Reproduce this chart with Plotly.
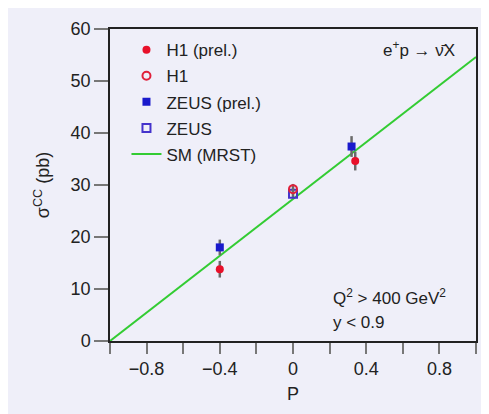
import plotly.graph_objects as go

# Data
h1_prel_p = [-0.40, 0.34]
h1_prel_sigma = [13.8, 34.6]
h1_prel_err = [1.6, 1.8]

h1_p = [0.0]
h1_sigma = [29.2]
h1_err = [1.0]

zeus_prel_p = [-0.40, 0.32]
zeus_prel_sigma = [18.0, 37.4]
zeus_prel_err = [1.5, 2.0]

zeus_p = [0.0]
zeus_sigma = [28.3]
zeus_err = [0.9]

sm_p = [-1.0, 1.0]
sm_sigma = [0.0, 54.6]

x_tickvals = [-0.8, -0.4, 0.0, 0.4, 0.8]
x_ticktext = ["\u22120.8", "\u22120.4", "0", "0.4", "0.8"]
y_tickvals = [0, 10, 20, 30, 40, 50, 60]

FONT = "Liberation Sans, Arial, sans-serif"
BG = "#efeff9"
ERRC = "#6a6a6a"

fig = go.Figure()

fig.add_trace(go.Scatter(
    x=sm_p, y=sm_sigma, mode="lines", name="SM (MRST)",
    line=dict(color="#33cc33", width=2), legendrank=5, legendgroup="e"))

def err(arr):
    return dict(type="data", array=arr, visible=True, color=ERRC, thickness=2.5, width=0)

fig.add_trace(go.Scatter(
    x=zeus_p, y=zeus_sigma, error_y=err(zeus_err), mode="markers", name="ZEUS",
    marker=dict(symbol="square-open", size=8, color="#4433cc", line=dict(width=2)),
    legendrank=4, legendgroup="d"))
fig.add_trace(go.Scatter(
    x=h1_p, y=h1_sigma, error_y=err(h1_err), mode="markers", name="H1",
    marker=dict(symbol="circle-open", size=8, color="#e0203a", line=dict(width=2)),
    legendrank=2, legendgroup="b"))
fig.add_trace(go.Scatter(
    x=zeus_prel_p, y=zeus_prel_sigma, error_y=err(zeus_prel_err), mode="markers",
    name="ZEUS (prel.)",
    marker=dict(symbol="square", size=8, color="#1a1acc"),
    legendrank=3, legendgroup="c"))
fig.add_trace(go.Scatter(
    x=h1_prel_p, y=h1_prel_sigma, error_y=err(h1_prel_err), mode="markers",
    name="H1 (prel.)",
    marker=dict(symbol="circle", size=8, color="#e8102a"),
    legendrank=1, legendgroup="a"))

fig.update_layout(
    width=481, height=406,
    margin=dict(l=102, r=11, t=21, b=73),
    paper_bgcolor=BG, plot_bgcolor=BG,
    font=dict(family=FONT, size=18, color="#222222"),
    showlegend=True,
    legend=dict(x=0.045, y=0.99, xanchor="left", yanchor="top",
                bgcolor="rgba(0,0,0,0)", font=dict(size=17),
                traceorder="grouped", tracegroupgap=1, itemwidth=30),
    xaxis=dict(range=[-1, 1], tickvals=x_tickvals, ticktext=x_ticktext,
               ticks="outside", ticklen=11, tickwidth=1.5, tickcolor="#777777",
               minor=dict(tick0=-1, dtick=0.2, ticks="outside", ticklen=11,
                          tickwidth=1.5, tickcolor="#777777", showgrid=False),
               showline=True, linecolor="#222222", linewidth=1.5, mirror=True,
               showgrid=False, zeroline=False,
               title=dict(text="P", standoff=9, font=dict(size=18)),
               tickfont=dict(size=18)),
    yaxis=dict(range=[0, 60], tickvals=y_tickvals,
               ticks="outside", ticklen=14, tickwidth=1.5, tickcolor="#777777",
               showline=True, linecolor="#222222", linewidth=1.5, mirror=True,
               showgrid=False, zeroline=False,
               title=dict(text="\u03c3<sup>CC</sup> (pb)", standoff=16, font=dict(size=18)),
               tickfont=dict(size=18)),
    annotations=[
        dict(text="e<sup>+</sup>p \u2192 \u03bd\u0304X", xref="paper", yref="paper",
             x=0.74, y=0.935, xanchor="left", yanchor="middle", showarrow=False,
             font=dict(size=17)),
        dict(text="Q<sup>2</sup> > 400 GeV<sup>2</sup>", xref="paper", yref="paper",
             x=0.605, y=0.14, xanchor="left", yanchor="middle", showarrow=False,
             font=dict(size=17)),
        dict(text="y < 0.9", xref="paper", yref="paper",
             x=0.605, y=0.058, xanchor="left", yanchor="middle", showarrow=False,
             font=dict(size=17)),
    ],
)

fig.write_html("out.html")
